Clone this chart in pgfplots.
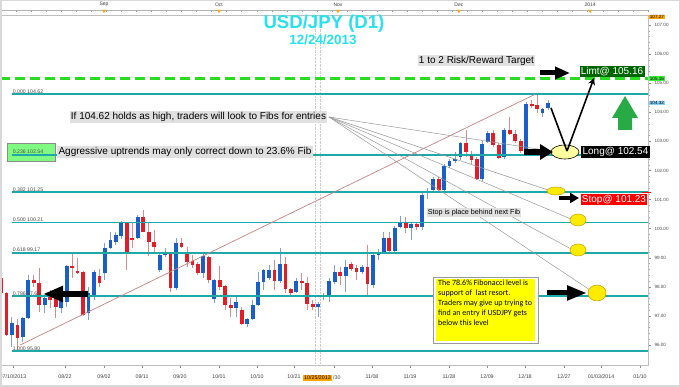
\documentclass[border=0pt]{standalone}
\usepackage{pgfplots}
\pgfplotsset{compat=1.18}
\usepackage{pgfplotstable}
\usepackage{fontspec}
\setmainfont{Liberation Sans}
\newfontfamily\carl{Carlito}
\usetikzlibrary{arrows.meta}

\definecolor{fib}{RGB}{30,168,168}
\definecolor{gdash}{RGB}{40,220,30}
\definecolor{cred}{RGB}{225,30,40}
\definecolor{cblue}{RGB}{25,95,200}
\definecolor{wred}{RGB}{215,140,140}
\definecolor{wblue}{RGB}{130,160,205}
\definecolor{trend}{RGB}{200,130,130}
\definecolor{ttl}{RGB}{40,225,240}
\definecolor{boxg}{RGB}{224,224,224}
\definecolor{lgreen}{RGB}{128,250,128}
\definecolor{darkg}{RGB}{0,100,0}
\definecolor{uparrow}{RGB}{40,170,70}
\definecolor{yel}{RGB}{255,235,0}
\definecolor{yelout}{RGB}{190,160,0}
\definecolor{yelbox}{RGB}{255,255,0}
\definecolor{paleyel}{RGB}{255,255,160}
\definecolor{pgreen}{RGB}{60,240,60}
\definecolor{pblue}{RGB}{135,206,250}
\definecolor{porange}{RGB}{255,165,0}

\pgfplotstableread{
k o h l c
0 98.31 98.58 97.72 97.79
1 97.79 97.82 96.30 96.35
3 96.69 96.90 95.80 96.24
6 98.24 98.41 98.00 98.13
7 98.13 98.65 97.14 97.38
9 97.65 97.89 97.27 97.55
10 97.65 97.72 96.93 97.31
13 98.72 99.16 98.31 98.68
14 98.55 98.99 98.44 98.51
15 98.51 98.55 97.00 97.03
18 98.37 98.62 98.00 98.13
23 100.20 100.23 98.58 99.20
24 99.68 100.20 99.34 99.61
26 100.40 100.64 99.89 99.89
27 99.89 100.20 99.06 99.54
28 99.54 99.96 99.20 99.37
31 99.16 99.20 97.82 97.96
33 99.51 99.68 99.34 99.37
34 99.20 99.37 98.68 98.86
35 98.89 99.10 98.65 98.75
36 98.79 98.86 98.41 98.48
38 99.03 99.06 98.13 98.24
40 98.24 98.72 97.89 98.00
41 98.03 98.07 97.21 97.38
42 97.38 97.62 96.97 97.27
44 97.21 97.31 96.69 96.72
50 98.58 98.92 97.89 98.20
52 98.79 99.03 97.79 97.93
53 97.93 97.96 97.72 97.79
55 98.20 98.48 97.89 98.13
56 98.13 98.34 97.21 97.41
57 97.41 97.55 97.21 97.31
62 98.51 98.68 98.07 98.37
64 98.79 98.86 98.55 98.62
65 98.65 98.75 98.24 98.51
67 98.68 99.44 97.65 98.10
71 99.68 99.89 99.16 99.23
74 100.23 100.40 99.85 100.02
76 100.16 100.20 99.96 100.06
80 101.71 101.78 101.30 101.33
85 102.95 103.39 102.46 102.64
86 102.53 102.67 102.23 102.36
87 102.40 102.46 101.67 101.71
90 103.29 103.39 102.80 102.88
91 102.88 102.95 102.40 102.43
93 103.39 103.84 103.22 103.25
94 103.25 103.39 102.95 103.01
95 103.01 103.10 102.60 102.67
97 104.29 104.42 104.15 104.22
98 104.25 104.62 103.98 104.11
}\redc

\pgfplotstableread{
k o h l c
2 96.35 96.97 95.93 96.76
4 96.28 96.97 96.10 96.93
5 96.93 98.41 96.90 98.24
8 97.38 97.72 97.10 97.62
11 97.27 97.79 97.10 97.55
12 97.48 98.75 97.31 98.72
16 97.10 98.00 96.86 97.79
17 97.65 98.58 97.55 98.51
19 98.48 99.51 98.24 99.34
20 99.34 99.89 99.30 99.61
21 99.55 99.89 99.44 99.78
22 99.75 100.25 99.65 100.20
25 99.68 100.47 99.65 100.40
29 98.58 99.13 98.51 99.10
30 99.10 99.34 99.03 99.16
32 97.96 99.68 97.89 99.51
37 98.48 99.16 98.31 99.06
39 97.58 98.27 97.45 98.24
43 97.27 97.65 96.97 97.48
45 96.72 96.93 96.62 96.90
46 96.90 97.55 96.86 97.38
47 97.38 98.51 97.34 98.17
48 98.17 98.62 97.89 98.58
49 98.31 98.75 98.24 98.58
51 98.20 99.34 98.13 98.79
54 97.82 98.31 97.79 98.20
58 97.31 97.48 96.97 97.41
59 97.65 97.79 97.55 97.72
60 97.69 98.31 97.48 98.20
61 98.17 98.75 98.10 98.51
63 98.37 98.92 97.82 98.68
66 98.51 98.75 98.44 98.68
68 98.07 99.20 97.96 99.10
69 99.13 99.30 98.92 99.16
70 99.20 99.89 99.13 99.68
72 99.23 100.09 99.16 100.02
73 100.06 100.44 100.02 100.20
75 100.02 100.23 99.61 100.16
77 100.06 101.26 99.96 101.16
78 101.23 101.40 101.02 101.30
79 101.33 101.78 101.26 101.71
81 101.33 102.22 101.30 102.15
82 102.15 102.40 102.10 102.33
83 102.33 102.64 102.25 102.40
84 102.46 102.98 102.36 102.95
88 101.71 103.00 101.64 102.91
89 102.98 103.35 102.95 103.29
92 102.46 103.45 102.40 103.39
96 102.70 104.35 102.64 104.29
99 103.98 104.15 103.84 104.11
100 104.15 104.42 104.08 104.32
}\bluec

\begin{document}
\begin{tikzpicture}
\path[use as bounding box] (0,0) rectangle (680pt,387pt);
\fill[white] (0,0) rectangle (680pt,387pt);

\begin{axis}[
  at={(0pt,22pt)}, anchor=south west, scale only axis,
  width=648pt, height=350pt,
  xmin=-0.183, xmax=118.28, ymin=95.316, ymax=107.344,
  axis line style={draw=black!25},
  xtick={2.19,11.7,18.83,25.78,32.72,39.85,46.8,53.56,60.88,67.82,74.77,81.9,88.85,95.8,102.93,109.69,116.82},
  xticklabels={07/10/2013,08/22,09/02,09/11,09/20,10/01,10/10,10/21,{},11/08,11/19,11/28,12/09,12/18,12/27,01/03/2014,01/10},
  minor x tick num=6,
  ytick={96,97,98,99,100,101,102,103,104,105,106,107},
  yticklabels={96.00,97.00,98.00,99.00,100.00,101.00,102.00,103.00,104.00,105.00,106.00,107.00},
  minor y tick num=4,
  xtick pos=left, ytick pos=right, yticklabel pos=right,
  tick align=outside,
  major tick length=3pt, minor tick length=1.5pt,
  every tick/.append style={black!45, line width=0.4pt},
  every minor tick/.append style={black!35, line width=0.3pt},
  xticklabel style={font=\fontsize{5.3}{6}\selectfont, text=black!75, yshift=-3pt},
  yticklabel style={font=\fontsize{4.6}{5}\selectfont, text=black!70},
]
% green box under the 0.236 line
\draw[black!45, fill=lgreen] (axis cs:1.097,102.945) rectangle (axis cs:9.872,102.326);
% crosshair dotted lines
\addplot[black!20, densely dotted, forget plot] coordinates {(57.4,95.316) (57.4,107.344)};
\addplot[black!20, densely dotted, forget plot] coordinates {(58.3,95.316) (58.3,107.344)};

% wicks
\addplot[draw=none, mark=none, forget plot,
  error bars/.cd, y dir=both, y explicit, error mark=none,
  error bar style={line width=0.9pt, draw=wred}]
  table[x=k, y expr={(\thisrow{h}+\thisrow{l})/2}, y error expr={(\thisrow{h}-\thisrow{l})/2}] {\redc};
\addplot[draw=none, mark=none, forget plot,
  error bars/.cd, y dir=both, y explicit, error mark=none,
  error bar style={line width=0.9pt, draw=wblue}]
  table[x=k, y expr={(\thisrow{h}+\thisrow{l})/2}, y error expr={(\thisrow{h}-\thisrow{l})/2}] {\bluec};
% bodies
\addplot[draw=none, mark=none, forget plot,
  error bars/.cd, y dir=both, y explicit, error mark=none,
  error bar style={line width=3.8pt, draw=cred, line cap=butt}]
  table[x=k, y expr={(\thisrow{o}+\thisrow{c})/2}, y error expr={abs(\thisrow{o}-\thisrow{c})/2}] {\redc};
\addplot[draw=none, mark=none, forget plot,
  error bars/.cd, y dir=both, y explicit, error mark=none,
  error bar style={line width=3.8pt, draw=cblue, line cap=butt}]
  table[x=k, y expr={(\thisrow{o}+\thisrow{c})/2}, y error expr={abs(\thisrow{o}-\thisrow{c})/2}] {\bluec};

% fibonacci levels
\addplot[fib, line width=1.8pt] coordinates {(2.01,104.62) (118.3,104.62)};
\addplot[fib, line width=1.8pt] coordinates {(2.01,102.54) (118.3,102.54)};
\addplot[fib, line width=1.8pt] coordinates {(2.01,101.25) (118.3,101.25)};
\addplot[fib, line width=1.8pt] coordinates {(2.01,100.21) (118.3,100.21)};
\addplot[fib, line width=1.8pt] coordinates {(2.01,99.17) (118.3,99.17)};
\addplot[fib, line width=1.8pt] coordinates {(2.01,97.68) (118.3,97.68)};
\addplot[fib, line width=1.8pt] coordinates {(2.01,95.80) (118.3,95.80)};
% trend line of the fib tool
\addplot[trend, line width=0.7pt] coordinates {(3.47,96.0) (97.75,104.63)};
% target line
\addplot[gdash, line width=2.6pt, dash pattern=on 10pt off 5pt] coordinates {(-0.183,105.16) (118.28,105.16)};

\begin{scope}[every node/.style={anchor=south west, font=\fontsize{5.2}{5}\selectfont, text=black!70, inner sep=0.6pt}]
\node at (axis cs:2.01,104.62) {0.000 104.62};
\node at (axis cs:2.01,102.54) {0.236 102.54};
\node at (axis cs:2.01,101.25) {0.382 101.25};
\node at (axis cs:2.01,100.21) {0.500 100.21};
\node at (axis cs:2.01,99.17) {0.618 99.17};
\node at (axis cs:2.01,97.68) {0.786 97.68};
\node at (axis cs:2.01,95.80) {1.000 95.80};
\end{scope}
\end{axis}

% top month ruler
\begin{axis}[
  at={(0pt,367pt)}, anchor=south west, scale only axis,
  width=648pt, height=10pt,
  xmin=-0.183, xmax=118.28, ymin=0, ymax=1,
  axis x line=top, axis y line=none,
  x axis line style={black!30, -},
  xtick={18.83,39.85,61.6,83.7,107.7},
  xticklabels={Sep,Oct,Nov,Dec,2014},
  minor xtick={0,2.75,...,118},
  tick align=inside, major tick length=2pt, minor tick length=2pt,
  every tick/.append style={black!40, line width=0.4pt},
  xticklabel style={font=\fontsize{5}{5}\selectfont, text=black!75},
]
\addplot[draw=none] coordinates {(0,0) (1,1)};
\fill[porange] (axis cs:18.83,1) ++(-1.8pt,0pt) -- ++(3.6pt,0pt) -- ++(-1.8pt,-3.2pt) -- cycle;
\fill[porange] (axis cs:39.85,1) ++(-1.8pt,0pt) -- ++(3.6pt,0pt) -- ++(-1.8pt,-3.2pt) -- cycle;
\fill[porange] (axis cs:61.6,1) ++(-1.8pt,0pt) -- ++(3.6pt,0pt) -- ++(-1.8pt,-3.2pt) -- cycle;
\fill[porange] (axis cs:83.7,1) ++(-1.8pt,0pt) -- ++(3.6pt,0pt) -- ++(-1.8pt,-3.2pt) -- cycle;
\fill[porange] (axis cs:107.7,1) ++(-1.8pt,0pt) -- ++(3.6pt,0pt) -- ++(-1.8pt,-3.2pt) -- cycle;
\end{axis}

% annotations in pixel coordinates
\begin{scope}[shift={(0pt,387pt)}, x=1pt, y=-1pt]
\draw[black!15, line width=1.5pt] (0.75,0.75) rectangle (679.25,386.25);
% title
\node[text=ttl, font=\bfseries\fontsize{18.6}{20}\selectfont] at (324,24) {USD/JPY (D1)};
\node[text=ttl, font=\bfseries\fontsize{13.4}{14}\selectfont] at (323,40) {12/24/2013};

% fan lines
\draw[black!40, line width=0.5pt] (329,117) -- (551,151);
\draw[black!40, line width=0.5pt] (329,117) -- (548,190);
\draw[black!40, line width=0.5pt] (329,117) -- (571,219);
\draw[black!40, line width=0.5pt] (329,117) -- (571,249);
\draw[black!40, line width=0.5pt] (329,117) -- (590,290);

% text boxes
\node[fill=boxg, inner sep=1.3pt, font=\fontsize{10}{11}\selectfont] at (476.5,60.5) {1 to 2 Risk/Reward Target};
\node[fill=darkg, text=white, inner sep=1.3pt, font=\fontsize{10}{11}\selectfont] at (612,71.5) {Limt@ 105.16};
\node[fill=boxg, inner sep=1.2pt, font=\fontsize{10}{11}\selectfont] at (198.5,117) {If 104.62 holds as high, traders will look to Fibs for entries};
\node[fill=boxg, inner sep=1.2pt, font=\fontsize{10}{11}\selectfont] at (185,152) {Aggressive uptrends may only correct down to 23.6\% Fib};
\node[fill=black, text=white, inner sep=1.2pt, font=\fontsize{10}{11}\selectfont] at (615.5,152) {Long@ 102.54};
\node[fill=red, text=white, inner sep=1.2pt, font=\fontsize{10}{11}\selectfont] at (614,199.5) {Stop@ 101.23};
\draw[red, line width=1pt] (642,193) -- (651,193);
\node[fill=boxg, inner sep=1.2pt, font=\fontsize{7.2}{8}\selectfont] at (474,212.5) {Stop is place behind next Fib};

% yellow note
\draw[black!40, fill=white] (433,277) rectangle (538,343);
\fill[yelbox] (436,279) rectangle (535,341);
\node[anchor=north west, align=left, font=\carl\fontsize{8}{10}\selectfont, inner sep=0pt] at (438,280)
  {The 78.6\% Fibonacci level is\\support of\ \ last resort.\\Traders may give up trying to\\find an entry if USDJPY gets\\below this level};

% ellipses
\draw[black, fill=paleyel, line width=0.6pt] (565,152) ellipse (14pt and 7pt);
\draw[yelout, fill=yel, line width=0.5pt] (556,191) ellipse (9pt and 4pt);
\draw[yelout, fill=yel, line width=0.5pt] (578,220) ellipse (8pt and 6pt);
\draw[yelout, fill=yel, line width=0.5pt] (578,250) ellipse (8pt and 6pt);
\draw[yelout, fill=yel, line width=0.5pt] (597,293) ellipse (9pt and 8pt);

% black arrows
\draw[black, line width=6pt, -{Triangle[length=20pt,width=15pt]}] (88,294) -- (43,294);
\draw[black, line width=6pt, -{Triangle[length=13pt,width=15pt]}] (524,152) -- (553,152);
\draw[black, line width=5pt, -{Triangle[length=15pt,width=12pt]}] (540,73) -- (570,73);
\draw[black, line width=4pt, -{Triangle[length=9pt,width=10pt]}] (559,198) -- (579,198);
\draw[black, line width=5pt, -{Triangle[length=20pt,width=14pt]}] (547,293) -- (587,293);
\draw[black, line width=1.6pt] (551,108) -- (567,151);
\draw[black, line width=1.6pt, -{Stealth[length=7pt,width=7pt]}] (567,151) -- (594,78);

% green up arrow
\fill[uparrow] (618,130) -- (618,118) -- (612,118) -- (625,96) -- (638,118) -- (632,118) -- (632,130) -- cycle;

% right axis price flags
\node[fill=porange, anchor=west, font=\fontsize{4.6}{5}\selectfont, inner sep=0.7pt] at (649,17) {107.27};
\node[fill=pgreen, anchor=west, font=\fontsize{4.6}{5}\selectfont, inner sep=0.7pt] at (649,78.5) {105.16};
\node[fill=pblue, anchor=west, font=\fontsize{4.6}{5}\selectfont, inner sep=0.7pt] at (649,103) {104.32};

% highlighted date and the rest of the 10/30 label
\node[fill=porange, font=\fontsize{5.3}{6}\selectfont, inner sep=0.8pt] at (317.5,378) {10/25/2013};
\node[anchor=west, text=black!75, font=\fontsize{5.3}{6}\selectfont, inner sep=0.3pt] at (332.6,378) {/30};
\end{scope}
\end{tikzpicture}
\end{document}
